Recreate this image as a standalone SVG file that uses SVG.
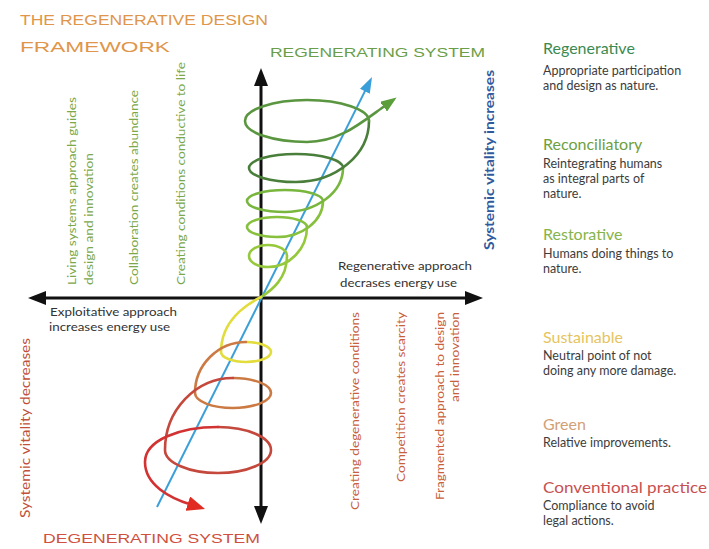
<svg xmlns="http://www.w3.org/2000/svg" width="709" height="549" viewBox="0 0 709 549">
<style>
.t{font-family:Lato,"Noto Sans","Liberation Sans",sans-serif}
.hand{font-family:"Liberation Sans","DejaVu Sans",sans-serif;font-size:14px}
.vg{font-size:12px;fill:#7aa84a}
.vr{font-size:12px;fill:#c8603c}
.ax{font-size:12px;fill:#333}
.h{font-size:16px}
.d{font-size:12.5px;fill:#3c3c3c}
.sp{fill:none;stroke-width:2.6;stroke-linecap:round}
</style>
<defs>
<marker id="mk" markerWidth="18" markerHeight="14" refX="4" refY="7" orient="auto-start-reverse" markerUnits="userSpaceOnUse"><path d="M0,0 L18,7 L0,14 z" fill="#111"/></marker>
<marker id="mb" markerWidth="16" markerHeight="11" refX="3" refY="5.5" orient="auto" markerUnits="userSpaceOnUse"><path d="M0,0 L16,5.5 L0,11 z" fill="#3a9fd8"/></marker>
<marker id="mg" markerWidth="16" markerHeight="12" refX="3" refY="6" orient="auto" markerUnits="userSpaceOnUse"><path d="M0,0 L16,6 L0,12 z" fill="#5c9e3c"/></marker>
<marker id="mr" markerWidth="18" markerHeight="15" refX="3" refY="7.5" orient="auto" markerUnits="userSpaceOnUse"><path d="M0,0 L18,7.5 L0,15 z" fill="#e02a22"/></marker>
</defs>
<rect width="709" height="549" fill="#fff"/>

<g id="title" class="hand" fill="#e0964a">
<text x="20" y="25" textLength="248" lengthAdjust="spacingAndGlyphs">THE REGENERATIVE DESIGN</text>
<text x="20" y="52" textLength="150" lengthAdjust="spacingAndGlyphs">FRAMEWORK</text>
</g>

<g id="connectors">
<line x1="261" y1="510" x2="261" y2="82" stroke="#111" stroke-width="3" marker-start="url(#mk)" marker-end="url(#mk)"/>
<line x1="42" y1="298" x2="469" y2="298" stroke="#111" stroke-width="3" marker-start="url(#mk)" marker-end="url(#mk)"/>
<line x1="157" y1="507" x2="366.2" y2="88.6" stroke="#3a9fd8" stroke-width="2" marker-end="url(#mb)"/>
<path class="sp" stroke="#96c83c" d="M261,297 C272,290 287,278.6 287,256 C287,249.95 278.45,245 268,245 C257.55,245 249,249.95 249,256 C249,262.05 257.55,267 268,267 C289.45,267 307,249 307,227"/>
<path class="sp" stroke="#86c03c" d="M307,227 C307,221.5 293.5,217 277,217 C260.5,217 247,221.5 247,227 C247,232.5 260.5,237 277,237 C302.3,237 323,220.8 323,201"/>
<path class="sp" stroke="#78b63e" d="M323,201 C323,194.95 305.9,190 285,190 C264.1,190 247,194.95 247,201 C247,207.05 264.1,212 285,212 C316.9,212 343,192.2 343,168"/>
<path class="sp" stroke="#4a7f3b" d="M343,168 C343,160.3 321.85,154 296,154 C270.15,154 249,160.3 249,168 C249,175.7 270.15,182 296,182 C336.15,182 369,154.55 369,121"/>
<path class="sp" stroke="#5a9640" d="M369,121 C369,109.45 341.1,100 307,100 C272.9,100 245,109.45 245,121 C245,132.55 272.9,142 307,142 C340,142 362,122 386,105" marker-end="url(#mg)"/>
<path class="sp" stroke="#e2dc3c" d="M261,297 C245,305 221,321.75 221,352 C221,357.5 232.25,362 246,362 C259.75,362 271,357.5 271,352 C271,346.5 259.75,342 246,342"/>
<path class="sp" stroke="#cc7a44" d="M246,342 C218,342 195,365 195,393 C195,401.25 212.1,408 233,408 C253.9,408 271,401.25 271,393 C271,384.75 253.9,378 233,378"/>
<path class="sp" stroke="#c4483c" d="M233,378 C195.6,378 165,410.4 165,450 C165,462.65 188.85,473 218,473 C247.15,473 271,462.65 271,450 C271,437.35 247.15,427 218,427"/>
<path class="sp" stroke="#d23232" d="M218,427 C180,427 145,440 145,462 C145,485 170,498 190.7,504.5" marker-end="url(#mr)"/>
</g>

<g id="system-labels" class="hand">
<text x="270" y="57" font-size="13" fill="#6a9e48" textLength="215" lengthAdjust="spacingAndGlyphs">REGENERATING SYSTEM</text>
<text x="43" y="543" font-size="13" fill="#d05040" textLength="217" lengthAdjust="spacingAndGlyphs">DEGENERATING SYSTEM</text>
</g>

<g id="vitality" class="t">
<text transform="translate(494,250) rotate(-90)" font-size="14" font-weight="bold" fill="#2f5a9e" textLength="180" lengthAdjust="spacingAndGlyphs">Systemic vitality increases</text>
<text transform="translate(30,518) rotate(-90)" font-size="14" fill="#c0503a" textLength="180" lengthAdjust="spacingAndGlyphs">Systemic vitality decreases</text>
</g>

<g id="regen-traits" class="t vg">
<text transform="translate(76,285) rotate(-90)" textLength="188" lengthAdjust="spacingAndGlyphs">Living systems approach guides</text>
<text transform="translate(93,285) rotate(-90)" textLength="132" lengthAdjust="spacingAndGlyphs">design and innovation</text>
<text transform="translate(138,285) rotate(-90)" textLength="195" lengthAdjust="spacingAndGlyphs">Collaboration creates abundance</text>
<text transform="translate(185,285) rotate(-90)" textLength="223" lengthAdjust="spacingAndGlyphs">Creating conditions conductive to life</text>
</g>

<g id="degen-traits" class="t vr">
<text transform="translate(359,510) rotate(-90)" textLength="198" lengthAdjust="spacingAndGlyphs">Creating degenerative conditions</text>
<text transform="translate(405,482) rotate(-90)" textLength="170" lengthAdjust="spacingAndGlyphs">Competition creates scarcity</text>
<text transform="translate(444,500) rotate(-90)" textLength="188" lengthAdjust="spacingAndGlyphs">Fragmented approach to design</text>
<text transform="translate(459,402) rotate(-90)" textLength="90" lengthAdjust="spacingAndGlyphs">and innovation</text>
</g>

<g id="energy" class="t ax">
<text x="338" y="270" textLength="134" lengthAdjust="spacingAndGlyphs">Regenerative approach</text>
<text x="340" y="287" textLength="117" lengthAdjust="spacingAndGlyphs">decrases energy use</text>
<text x="50" y="316" textLength="127" lengthAdjust="spacingAndGlyphs">Exploitative approach</text>
<text x="49" y="331" textLength="121" lengthAdjust="spacingAndGlyphs">increases energy use</text>
</g>

<g id="level-regenerative" class="t">
<text class="h" x="543" y="54" fill="#3a8a52">Regenerative</text>
<text class="d" x="543" y="75">Appropriate participation</text>
<text class="d" x="543" y="90">and design as nature.</text>
</g>
<g id="level-reconciliatory" class="t">
<text class="h" x="543" y="150" fill="#6ea040">Reconciliatory</text>
<text class="d" x="543" y="168">Reintegrating humans</text>
<text class="d" x="543" y="183">as integral parts of</text>
<text class="d" x="543" y="198">nature.</text>
</g>
<g id="level-restorative" class="t">
<text class="h" x="543" y="240" fill="#86b44a">Restorative</text>
<text class="d" x="543" y="258">Humans doing things to</text>
<text class="d" x="543" y="273">nature.</text>
</g>
<g id="level-sustainable" class="t">
<text class="h" x="543" y="343" fill="#e6c460">Sustainable</text>
<text class="d" x="543" y="360">Neutral point of not</text>
<text class="d" x="543" y="375">doing any more damage.</text>
</g>
<g id="level-green" class="t">
<text class="h" x="543" y="430" fill="#d2a078">Green</text>
<text class="d" x="543" y="447">Relative improvements.</text>
</g>
<g id="level-conventional" class="t">
<text class="h" x="543" y="493" fill="#c85050" textLength="164" lengthAdjust="spacingAndGlyphs">Conventional practice</text>
<text class="d" x="543" y="510">Compliance to avoid</text>
<text class="d" x="543" y="525">legal actions.</text>
</g>
</svg>
